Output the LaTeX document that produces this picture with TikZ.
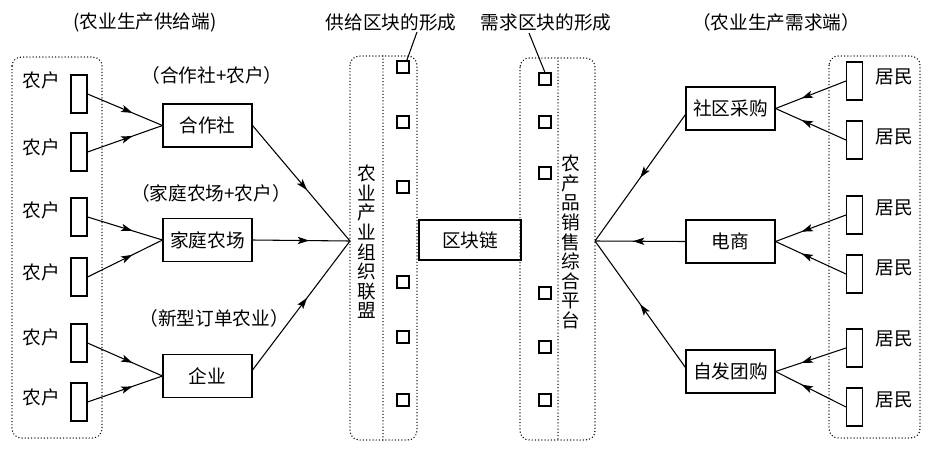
\documentclass[tikz,border=0pt]{standalone}
\usepackage{fontspec}
\setmainfont{Noto Sans CJK SC}
\usetikzlibrary{arrows.meta,decorations.markings,calc}
\begin{document}
\begin{tikzpicture}[x=0.75pt,y=-0.75pt,
  every node/.style={font=\fontsize{14pt}{16pt}\selectfont},
  box/.style={draw,line width=0.8pt,minimum width=66.75pt,minimum height=32.25pt,inner sep=0pt},
  slim/.style={draw,line width=0.8pt,minimum width=12pt,minimum height=28.5pt,inner sep=0pt},
  sq/.style={draw,line width=0.8pt,minimum width=9pt,minimum height=9pt,inner sep=0pt},
  dotbox/.style={line width=1.1pt,dash pattern=on 0pt off 2.4pt,line cap=round,rounded corners=7pt},
  dotline/.style={line width=1.1pt,dash pattern=on 0pt off 2.4pt,line cap=round},
  midarrow/.style={line width=0.8pt,decoration={markings,mark=at position #1 with {\arrow{Stealth[length=8.5pt,width=5.5pt,inset=2pt]}}},postaction={decorate}},
  midarrow/.default=0.57,
  vtext/.style={align=center,inner sep=0pt,font=\fontsize{14pt}{14.7pt}\selectfont}
]
\useasboundingbox (0,0) rectangle (933,451);

% titles
\node (t1) at (145,22) {(农业生产供给端)};
\node (t2) at (391,22) {供给区块的形成};
\node (t3) at (546,22) {需求区块的形成};
\node (t4) at (776,22) {（农业生产需求端）};

% left dotted group
\draw[dotbox] (12,57) rectangle (102,438);
\foreach \i/\y/\ly in {1/94/80,2/152/147,3/217/210,4/277/272,5/343/337,6/402/397}{
  \node[slim] (f\i) at (79,\y) {};
  \node (fl\i) at (41,\ly) {农户};
}

% left boxes
\node[box] (hz) at (207.5,125.5) {合作社};
\node[box] (jt) at (207.5,240) {家庭农场};
\node[box] (qy) at (207.5,376) {企业};
\node (hzl) at (212,75) {（合作社+农户）};
\node (jtl) at (211,193) {（家庭农场+农户）};
\node (qyl) at (214,318) {（新型订单农业）};

\draw[midarrow=0.6] (f1.east) -- (hz.west);
\draw[midarrow=0.6] (f2.east) -- (hz.west);
\draw[midarrow=0.6] (f3.east) -- (jt.west);
\draw[midarrow=0.6] (f4.east) -- (jt.west);
\draw[midarrow=0.6] (f5.east) -- (qy.west);
\draw[midarrow=0.6] (f6.east) -- (qy.west);

% middle columns
\coordinate (L) at (350,241);
\coordinate (R) at (595,241);
\draw[dotbox] (350,56) rectangle (417,440);
\draw[dotline] (383,56) -- (383,440);
\draw[dotbox] (520,58) rectangle (595,440);
\draw[dotline] (558,58) -- (558,440);

\node[vtext] (lt) at (367,242) {农\\业\\产\\业\\组\\织\\联\\盟};
\node[vtext] (rt) at (571,242) {农\\产\\品\\销\\售\\综\\合\\平\\台};

\foreach \i/\y in {1/67,2/122,3/187,4/282,5/337,6/400}{
  \node[sq] (ls\i) at (403,\y) {};
}
\foreach \i/\y in {1/79,2/122,3/173,4/293,5/347,6/400}{
  \node[sq] (rs\i) at (545,\y) {};
}

\node[box,minimum width=76.5pt,minimum height=30pt] (qkl) at (470,240) {区块链};

\coordinate (c1) at (417,32);
\coordinate (c2) at (529,33);
\draw[line width=0.8pt] (c1) -- (ls1.60);
\draw[line width=0.8pt] (c2) -- (rs1.north);

\draw[midarrow=0.56] (hz.east) -- (L);
\draw[midarrow=0.58] (jt.east) -- (L);
\draw[midarrow=0.56] ($(qy.east)+(0,-6)$) -- (L);

% right boxes
\node[box] (sq) at (730.5,108.5) {社区采购};
\node[box] (ds) at (730.5,241.5) {电商};
\node[box] (zf) at (730.5,371.5) {自发团购};

\draw[midarrow=0.5] ($(sq.west)+(0,6)$) -- (R);
\draw[midarrow=0.58] (ds.west) -- (R);
\draw[midarrow=0.5] ($(zf.west)+(0,-4)$) -- (R);

% right dotted group
\draw[dotbox] (829,56) rectangle (920,438);
\foreach \i/\y/\ly in {1/81/77,2/140/137,3/215/208,4/274/268,5/348/339,6/407/400}{
  \node[slim] (r\i) at (854.5,\y) {};
  \node (rl\i) at (894,\ly) {居民};
}

\draw[midarrow=0.63] (r1.west) -- (sq.east);
\draw[midarrow=0.63] (r2.west) -- (sq.east);
\draw[midarrow=0.63] (r3.west) -- (ds.east);
\draw[midarrow=0.63] (r4.west) -- (ds.east);
\draw[midarrow=0.63] (r5.west) -- (zf.east);
\draw[midarrow=0.63] (r6.west) -- (zf.east);
\end{tikzpicture}
\end{document}
